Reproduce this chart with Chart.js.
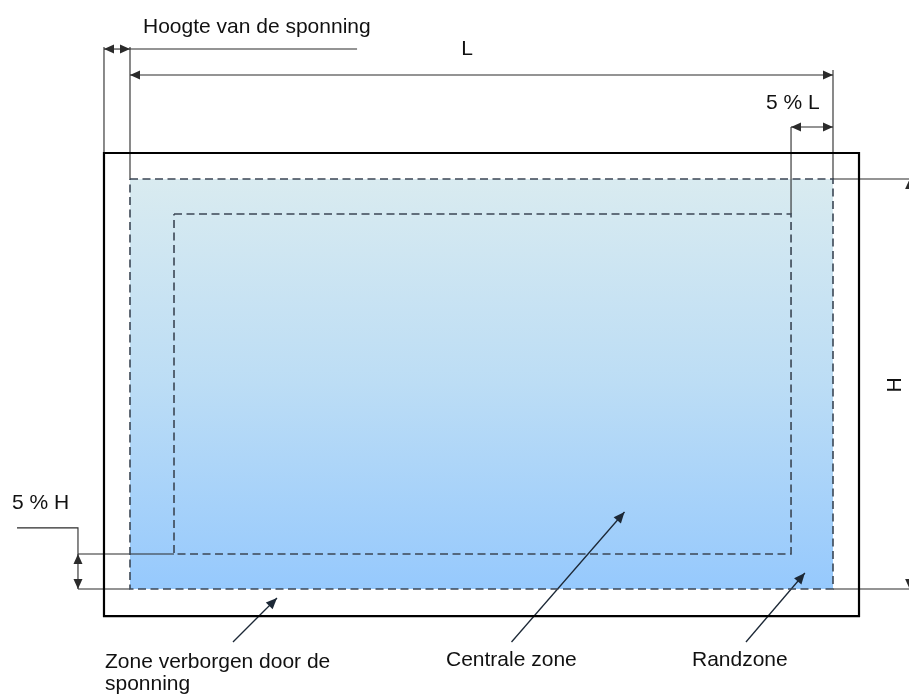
<!DOCTYPE html>
<html><head><meta charset="utf-8">
<script src="https://cdn.jsdelivr.net/npm/chart.js@4.4.0/dist/chart.umd.min.js"></script>
<style>html,body{margin:0;padding:0;background:#fff}#wrap{width:909px;height:697px;position:relative}</style>
</head><body><div id="wrap"><canvas id="c"></canvas></div>
<script>
// Diagram units: the glass pane spans L = 0..100 (x) and H = 0..100 (y, downward)
const frameX = [-3.7, 103.7];
const frameY = [-6.34, 106.6];
const glassX = [0, 100];
const glassY = [0, 100];
const centralX = [6.26, 94.03];
const centralY = [8.54, 91.46];

const rebateDimY = -31.7;
const lengthDimY = -25.37;
const edgeLDimY = -12.68;
const edgeHDimX = -7.4;
const heightDimX = 110.9;
const extTopY = -32.2;
const lengthExtTopY = -26.6;
const leaderEndX = 32.3;
const sideEdgeX = 110.81;
const edgeHLeaderX = [-16.07, -7.4];
const edgeHLeaderY = [85.1, 85.1];

const pointerTailX = [14.65, 54.27, 87.62];
const pointerTailY = [112.93, 112.93, 112.93];
const pointerTipX = [20.91, 70.34, 96.0];
const pointerTipY = [102.2, 81.22, 96.1];

const labelTexts = ["Hoogte van de sponning", "L", "5 % L", "5 % H", "H",
  "Zone verborgen door de", "sponning", "Centrale zone", "Randzone"];
const labelX = [1.85, 47.94, 90.47, -16.79, 108.8, -3.56, -3.56, 44.95, 79.94];
const labelY = [-35.61, -30.24, -17.07, 80.49, 50.2, 119.27, 124.6, 118.9, 118.9];
const labelAlign = ["left", "center", "left", "left", "center", "left", "left", "left", "left"];
const labelRotate = [0, 0, 0, 0, -90, 0, 0, 0, 0];

const P = (x, y) => ({x, y});
const rect = (xs, ys) => [P(xs[0], ys[0]), P(xs[1], ys[0]), P(xs[1], ys[1]), P(xs[0], ys[1]), P(xs[0], ys[0])];

const LINE = '#2b2b2b';
const DASH = '#3b4654';

const thin = (pts, arrows) => ({data: pts, borderColor: LINE, borderWidth: 1.1, arrows, arrowLen: 10, arrowW: 4.5});

const segs = [
  thin([P(frameX[0], rebateDimY), P(glassX[0], rebateDimY)], 'both'),
  thin([P(glassX[0], rebateDimY), P(leaderEndX, rebateDimY)]),
  thin([P(frameX[0], extTopY), P(frameX[0], frameY[0])]),
  thin([P(glassX[0], extTopY), P(glassX[0], glassY[0])]),
  thin([P(glassX[0], lengthDimY), P(glassX[1], lengthDimY)], 'both'),
  thin([P(glassX[1], lengthExtTopY), P(glassX[1], glassY[0])]),
  thin([P(centralX[1], edgeLDimY), P(glassX[1], edgeLDimY)], 'both'),
  thin([P(centralX[1], edgeLDimY), P(centralX[1], centralY[0])]),
  thin([P(glassX[1], glassY[0]), P(sideEdgeX, glassY[0])]),
  thin([P(edgeHDimX, glassY[1]), P(glassX[0], glassY[1])]),
  thin([P(glassX[1], glassY[1]), P(sideEdgeX, glassY[1])]),
  thin([P(heightDimX, glassY[0]), P(heightDimX, glassY[1])], 'both'),
  thin([P(edgeHDimX, centralY[1]), P(edgeHDimX, glassY[1])], 'both'),
  thin([P(edgeHLeaderX[0], edgeHLeaderY[0]), P(edgeHLeaderX[1], edgeHLeaderY[1]), P(edgeHDimX, centralY[1]), P(centralX[0], centralY[1])]),
];
pointerTailX.forEach((tx, i) => {
  segs.push({data: [P(tx, pointerTailY[i]), P(pointerTipX[i], pointerTipY[i])], borderColor: '#1c2836', borderWidth: 1.3, arrows: 'end', arrowLen: 11, arrowW: 4.8});
});

const datasets = [
  {data: rect(frameX, frameY), borderColor: '#000', borderWidth: 2.2, borderJoinStyle: 'miter', borderCapStyle: 'square'},
  {data: rect(centralX, centralY), borderColor: DASH, borderWidth: 1.6, borderDash: [8, 4.5]},
  {data: rect(glassX, glassY), borderColor: DASH, borderWidth: 1.6, borderDash: [8, 4.5]},
  ...segs,
  {data: [P(glassX[0], glassY[0]), P(glassX[1], glassY[0])], borderWidth: 0, borderColor: 'rgba(0,0,0,0)', order: 10,
   fill: {value: glassY[1]},
   backgroundColor: (c) => {
     const chart = c.chart; if (!chart.chartArea) return 'rgba(0,0,0,0)';
     const ys = chart.scales.y;
     const g = chart.ctx.createLinearGradient(0, ys.getPixelForValue(glassY[0]), 0, ys.getPixelForValue(glassY[1]));
     g.addColorStop(0, 'rgb(217,235,240)');
     g.addColorStop(0.5, 'rgb(188,221,245)');
     g.addColorStop(1, 'rgb(150,201,253)');
     return g;
   }}
].map(d => Object.assign({showLine: true, pointRadius: 0, tension: 0, fill: false}, d));

const arrowPlugin = {id: 'arrowheads', afterDatasetsDraw(chart) {
  const ctx = chart.ctx, xs = chart.scales.x, ys = chart.scales.y;
  chart.data.datasets.forEach(ds => {
    if (!ds.arrows) return;
    const p = ds.data.map(d => [xs.getPixelForValue(d.x), ys.getPixelForValue(d.y)]);
    const draw = (tip, from) => {
      const a = Math.atan2(tip[1] - from[1], tip[0] - from[0]);
      const L = ds.arrowLen, W = ds.arrowW, c = Math.cos(a), s = Math.sin(a);
      ctx.save(); ctx.fillStyle = ds.borderColor; ctx.beginPath();
      ctx.moveTo(tip[0], tip[1]);
      ctx.lineTo(tip[0] - L * c + W * s, tip[1] - L * s - W * c);
      ctx.lineTo(tip[0] - L * c - W * s, tip[1] - L * s + W * c);
      ctx.closePath(); ctx.fill(); ctx.restore();
    };
    if (ds.arrows === 'both' || ds.arrows === 'start') draw(p[0], p[1]);
    if (ds.arrows === 'both' || ds.arrows === 'end') draw(p[p.length - 1], p[p.length - 2]);
  });
}};

const textPlugin = {id: 'labels', afterDraw(chart) {
  const ctx = chart.ctx, xs = chart.scales.x, ys = chart.scales.y;
  ctx.save();
  ctx.fillStyle = '#111';
  ctx.font = '21px "Liberation Sans", Arial, sans-serif';
  labelTexts.forEach((t, i) => {
    const x = xs.getPixelForValue(labelX[i]), y = ys.getPixelForValue(labelY[i]);
    ctx.save();
    ctx.translate(x, y);
    if (labelRotate[i]) { ctx.rotate(labelRotate[i] * Math.PI / 180); ctx.textBaseline = 'middle'; }
    else ctx.textBaseline = 'alphabetic';
    ctx.textAlign = labelAlign[i];
    ctx.fillText(t, 0, 0);
    ctx.restore();
  });
  ctx.restore();
}};

new Chart(document.getElementById('c'), {
  type: 'scatter',
  data: {datasets},
  options: {
    responsive: true, maintainAspectRatio: false, animation: false, events: [],
    layout: {padding: 0},
    plugins: {legend: {display: false}, tooltip: {enabled: false}},
    scales: {
      x: {type: 'linear', display: false, min: -130 / 7.03, max: (909 - 130) / 7.03},
      y: {type: 'linear', display: false, reverse: true, min: -179 / 4.1, max: (697 - 179) / 4.1}
    }
  },
  plugins: [arrowPlugin, textPlugin]
});
</script></body></html>
